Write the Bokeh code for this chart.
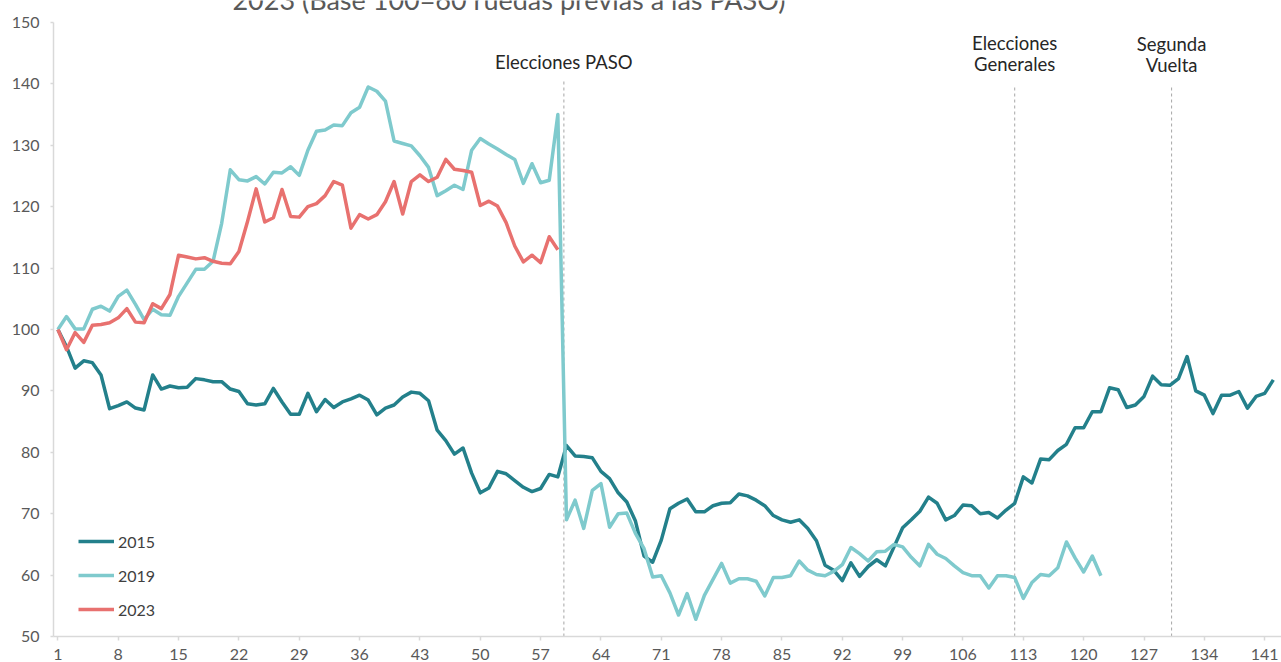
from bokeh.plotting import figure
from bokeh.models import Range1d, FixedTicker, Legend, LegendItem, Label, ColumnDataSource
from bokeh.core.properties import value
from bokeh.embed import file_html
from bokeh.resources import INLINE

FONT = "Lato"

title_text = "2023 (Base 100=60 ruedas previas a las PASO)"

s2015 = [100.0, 97.2, 93.7, 94.9, 94.6, 92.6, 87.1, 87.6, 88.2, 87.2,
         86.9, 92.6, 90.3, 90.8, 90.5, 90.6, 92.0, 91.8, 91.5, 91.5,
         90.3, 89.9, 87.9, 87.7, 87.9, 90.4, 88.2, 86.2, 86.2, 89.6,
         86.6, 88.6, 87.3, 88.2, 88.7, 89.3, 88.5, 86.1, 87.2, 87.7,
         89.0, 89.8, 89.6, 88.4, 83.6, 81.9, 79.7, 80.7, 76.6, 73.4,
         74.2, 76.9, 76.5, 75.4, 74.3, 73.6, 74.1, 76.4, 76.0, 81.1,
         79.4, 79.3, 79.1, 76.9, 75.7, 73.4, 71.9, 68.8, 63.1, 62.1,
         65.7, 70.8, 71.7, 72.4, 70.3, 70.3, 71.3, 71.7, 71.8, 73.2,
         72.9, 72.2, 71.3, 69.7, 69.0, 68.6, 69.0, 67.6, 65.6, 61.6,
         60.8, 59.1, 62.0, 59.8, 61.4, 62.5, 61.5, 64.6, 67.7, 69.0,
         70.4, 72.7, 71.7, 69.0, 69.7, 71.4, 71.3, 70.0, 70.2, 69.3,
         70.6, 71.7, 76.0, 75.0, 78.9, 78.8, 80.3, 81.3, 84.0, 84.0,
         86.6, 86.6, 90.5, 90.2, 87.3, 87.7, 89.1, 92.4, 91.0, 90.9,
         92.0, 95.6, 90.0, 89.3, 86.3, 89.3, 89.3, 89.9, 87.2, 89.1,
         89.6, 91.8]

s2019 = [100.0, 102.1, 100.1, 100.1, 103.3, 103.8, 103.0, 105.4, 106.4, 104.1,
         101.6, 103.3, 102.4, 102.3, 105.4, 107.6, 109.8, 109.8, 111.1, 117.3,
         126.0, 124.4, 124.2, 124.9, 123.7, 125.6, 125.5, 126.5, 125.1, 129.2,
         132.3, 132.5, 133.3, 133.2, 135.3, 136.2, 139.5, 138.8, 137.2, 130.7,
         130.3, 129.9, 128.3, 126.4, 121.8, 122.6, 123.5, 122.8, 129.2, 131.1,
         130.2, 129.4, 128.5, 127.7, 123.8, 127.0, 123.9, 124.3, 135.0, 69.0,
         72.2, 67.6, 73.8, 74.9, 67.8, 70.0, 70.1, 66.8, 64.3, 59.7,
         59.9, 57.1, 53.5, 57.0, 52.8, 56.7, 59.3, 61.9, 58.7, 59.4,
         59.4, 59.0, 56.6, 59.6, 59.6, 59.9, 62.3, 60.8, 60.1, 59.9,
         60.6, 61.7, 64.5, 63.5, 62.3, 63.8, 63.9, 65.0, 64.6, 62.9,
         61.5, 65.0, 63.4, 62.7, 61.5, 60.4, 59.9, 59.9, 57.9, 59.9,
         59.9, 59.6, 56.2, 58.8, 60.1, 59.9, 61.2, 65.4, 62.8, 60.5,
         63.1, 59.9]

s2023 = [100.0, 96.7, 99.5, 97.9, 100.7, 100.8, 101.1, 101.9, 103.4, 101.2,
         101.1, 104.2, 103.4, 105.7, 112.1, 111.8, 111.5, 111.7, 111.1, 110.8,
         110.7, 112.7, 117.6, 122.9, 117.5, 118.2, 122.8, 118.4, 118.3, 120.0,
         120.5, 121.8, 124.1, 123.5, 116.5, 118.7, 118.0, 118.7, 120.8, 124.1,
         118.8, 124.1, 125.2, 124.1, 124.8, 127.7, 126.1, 125.9, 125.6, 120.2,
         120.9, 120.1, 117.4, 113.6, 111.0, 112.1, 110.9, 115.1, 113.0]

series_names = ["2015", "2019", "2023"]
series_colors = ["#23808b", "#7fcacd", "#e8716f"]

x_ticks = list(range(1, 142, 7))
y_ticks = list(range(50, 151, 10))

event_x = [59.7, 112.0, 130.2]
event_top = [140.5, 139.8, 139.8]
event_labels = ["Elecciones PASO", "Elecciones\nGenerales", "Segunda\nVuelta"]
event_label_y = [143.6, 145.0, 144.85]

# frame reaches the top of the canvas; 150 sits 22px below it
p = figure(width=1281, height=662, output_backend="svg", toolbar_location=None,
           x_range=Range1d(0.49, 142.95), y_range=Range1d(50, 153.58),
           min_border_left=53, min_border_right=0, min_border_top=0, min_border_bottom=0)
p.outline_line_color = None
p.background_fill_color = "white"
p.border_fill_color = "white"
p.xgrid.grid_line_color = None
p.ygrid.grid_line_color = None

for ax in (p.xaxis[0], p.yaxis[0]):
    ax.axis_line_color = "#d9d9d9"
    ax.axis_line_width = 1.5
    ax.major_tick_line_color = "#d9d9d9"
    ax.major_tick_line_width = 1.5
    ax.minor_tick_line_color = None
    ax.major_tick_in = 0
    ax.major_label_text_font = FONT
    ax.major_label_text_color = "#595959"

p.xaxis.ticker = FixedTicker(ticks=x_ticks)
p.xaxis.major_tick_out = 4
p.xaxis.major_label_standoff = 8
p.xaxis.major_label_text_font_size = "16px"
p.yaxis.ticker = FixedTicker(ticks=y_ticks)
p.yaxis.bounds = (50, 150)
p.yaxis.major_tick_out = 3
p.yaxis.major_label_standoff = 11
p.yaxis.major_label_text_font_size = "16px"

# event dashed lines
p.segment(x0=event_x, y0=[50] * 3, x1=event_x, y1=event_top,
          line_color="#a6a6a6", line_width=1, line_dash="3 3")

renderers = []
for name, data, col in zip(series_names, [s2015, s2019, s2023], series_colors):
    src = ColumnDataSource(dict(x=list(range(1, len(data) + 1)), y=data))
    r = p.line("x", "y", source=src, line_color=col, line_width=3.5, line_join="round")
    renderers.append(r)

legend = Legend(items=[LegendItem(label=n, renderers=[r]) for n, r in zip(series_names, renderers)],
                location=(25, 17), orientation="vertical",
                label_text_font=FONT, label_text_font_size="16px", label_text_color="#404040",
                glyph_width=36, glyph_height=20, label_height=20, label_standoff=4,
                spacing=14, padding=0, margin=0,
                background_fill_alpha=0, border_line_color=None)
p.add_layout(legend)

for ex, ey, txt in zip(event_x, event_label_y, event_labels):
    p.add_layout(Label(x=ex, y=ey, text=txt, text_align="center", text_baseline="middle",
                       text_font=FONT, text_font_size="18.5px", text_color="#262626",
                       text_line_height=0.95))

p.add_layout(Label(x=21.25, y=153.7, text=title_text, text_align="left",
                   text_baseline="alphabetic", text_font=FONT, text_font_size="27px",
                   text_color="#595959"))

open("out.html", "w").write(file_html(p, INLINE))
